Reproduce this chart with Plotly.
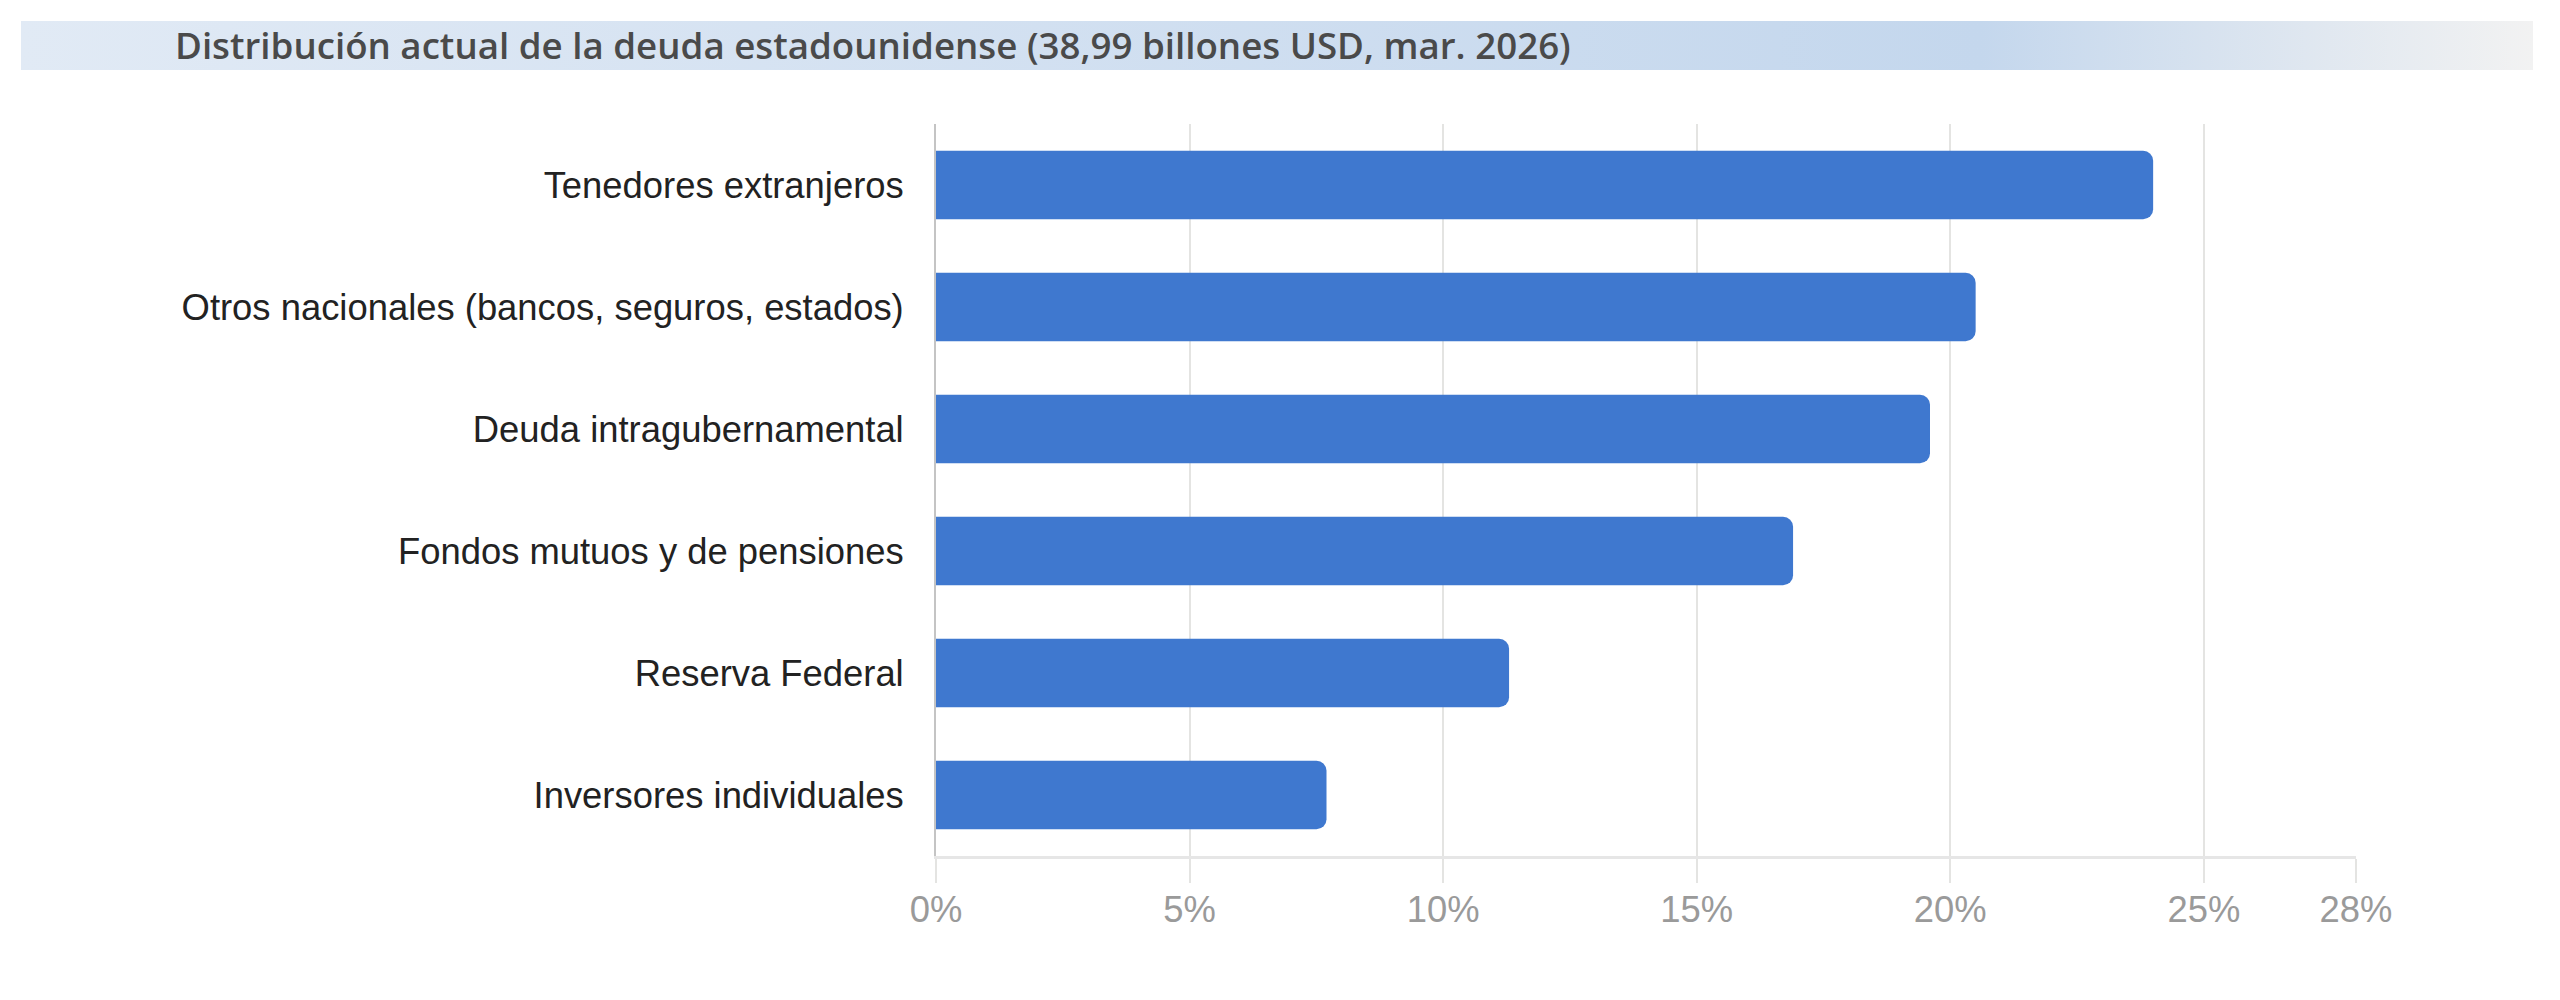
import plotly.graph_objects as go

# ---------------------------------------------------------------------------
# Data (share of total US debt, %)
# ---------------------------------------------------------------------------
holders = [
    "Tenedores extranjeros",
    "Otros nacionales (bancos, seguros, estados)",
    "Deuda intragubernamental",
    "Fondos mutuos y de pensiones",
    "Reserva Federal",
    "Inversores individuales",
]
share_pct = [24.0, 20.5, 19.6, 16.9, 11.3, 7.7]

tick_vals = [0, 5, 10, 15, 20, 25, 28]
tick_text = ["0%", "5%", "10%", "15%", "20%", "25%", "28%"]

TITLE = "Distribución actual de la deuda estadounidense (38,99 billones USD, mar. 2026)"

# page has an 8px body margin, so keep the figure inside the 2560x1000 window
W, H = 2544, 984
OFF = 8
BAR_COLOR = "#3f78cf"
GRID = "#e4e4e2"


def px_x(p):
    return (p - OFF) / W


def px_y(p):
    return 1 - (p - OFF) / H


fig = go.Figure()

# title banner (gradient strip) on its own hidden axes
fig.add_trace(
    go.Scatter(
        x=[0, 1, 1, 0, 0],
        y=[0, 0, 1, 1, 0],
        xaxis="x2",
        yaxis="y2",
        mode="none",
        fill="toself",
        fillgradient=dict(
            type="horizontal",
            colorscale=[[0, "#e1eaf5"], [0.78, "#c4d7ed"], [1, "#f2f2f2"]],
        ),
        hoverinfo="skip",
        showlegend=False,
    )
)

fig.add_trace(
    go.Bar(
        x=share_pct,
        y=holders,
        orientation="h",
        marker=dict(color=BAR_COLOR, line=dict(width=0)),
        hovertemplate="%{y}: %{x:.1f}%<extra></extra>",
        showlegend=False,
    )
)

fig.add_annotation(
    text=TITLE,
    xref="paper",
    yref="paper",
    x=px_x(173),
    y=px_y(45),
    xanchor="left",
    yanchor="middle",
    showarrow=False,
    font=dict(family="Open Sans", size=36.7, color="#4a4a4a", weight=600),
)

fig.update_layout(
    width=W,
    height=H,
    margin=dict(l=0, r=0, t=0, b=0, pad=0),
    paper_bgcolor="white",
    plot_bgcolor="white",
    bargap=0.44,
    barcornerradius=10,
    font=dict(family="Liberation Sans, Arial", size=36.4, color="#222222"),
    xaxis=dict(
        domain=[px_x(936), px_x(2356)],
        range=[0, 28],
        tickvals=tick_vals,
        ticktext=tick_text,
        showgrid=True,
        gridcolor=GRID,
        gridwidth=2,
        ticks="outside",
        ticklen=24,
        tickwidth=2,
        tickcolor=GRID,
        ticklabelstandoff=-5,
        showline=True,
        linecolor="#e6e6e6",
        linewidth=3,
        zeroline=False,
        automargin=False,
        tickfont=dict(color="#9a9a9a", size=36.4),
        fixedrange=True,
    ),
    yaxis=dict(
        domain=[px_y(856), px_y(124)],
        autorange="reversed",
        showgrid=False,
        showline=True,
        linecolor="#c4c4c4",
        linewidth=2,
        ticks="",
        ticklabelstandoff=23,
        automargin=False,
        tickfont=dict(color="#222222", size=36.4),
        fixedrange=True,
    ),
    xaxis2=dict(
        domain=[px_x(21), px_x(2533)],
        range=[0, 1],
        visible=False,
        automargin=False,
        anchor="y2",
        fixedrange=True,
    ),
    yaxis2=dict(
        domain=[px_y(70), px_y(21)],
        range=[0, 1],
        visible=False,
        automargin=False,
        anchor="x2",
        fixedrange=True,
    ),
)

fig.write_html("out.html")
